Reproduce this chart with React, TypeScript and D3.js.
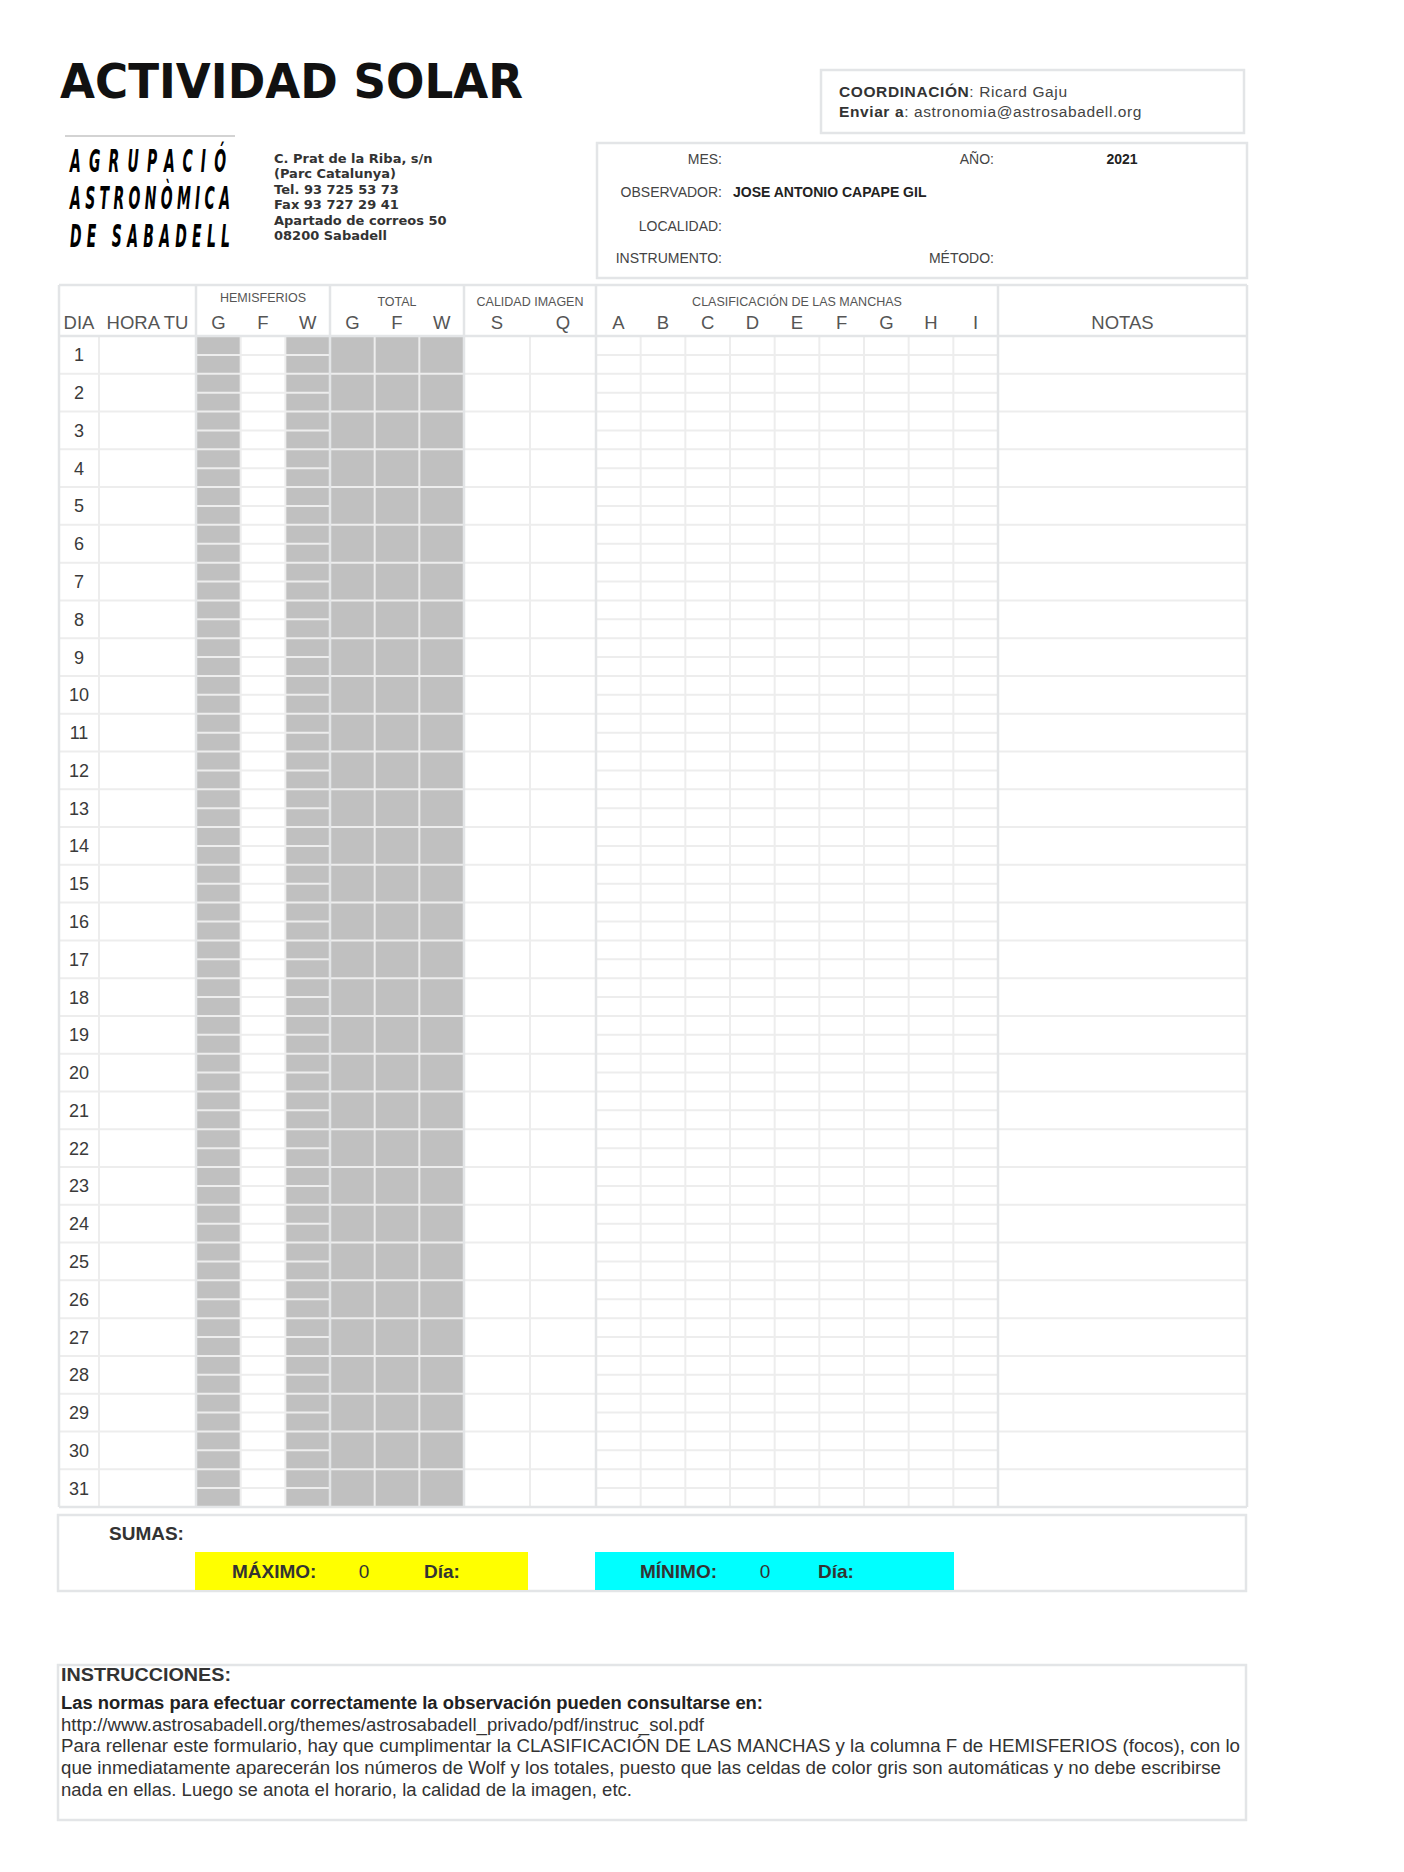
import React from "react";
import * as d3 from "d3";

// ---- form content ----
const days = [
  1, 2, 3, 4, 5, 6, 7, 8, 9, 10, 11, 12, 13, 14, 15, 16, 17, 18, 19, 20, 21,
  22, 23, 24, 25, 26, 27, 28, 29, 30, 31,
];
const hemisferioCols = ["G", "F", "W"];
const hemisferioGray = ["G", "W"];
const totalCols = ["G", "F", "W"];
const calidadCols = ["S", "Q"];
const manchasCols = ["A", "B", "C", "D", "E", "F", "G", "H", "I"];
const subRows = [0, 1]; // N / S hemisphere half rows

const titleText = "ACTIVIDAD SOLAR";
const logoLines = ["AGRUPACIÓ", "ASTRONÒMICA", "DE SABADELL"];
const addressLines = [
  "C. Prat de la Riba, s/n",
  "(Parc Catalunya)",
  "Tel. 93 725 53 73",
  "Fax 93 727 29 41",
  "Apartado de correos 50",
  "08200 Sabadell",
];
const coordinador = "Ricard Gaju";
const enviarA = "astronomia@astrosabadell.org";
const infoLabelsLeft = ["MES:", "OBSERVADOR:", "LOCALIDAD:", "INSTRUMENTO:"];
const infoLabelsRight = ["AÑO:", "", "", "MÉTODO:"];
const observador = "JOSE ANTONIO CAPAPE GIL";
const anyo = "2021";
const maximo = 0;
const minimo = 0;
const instruccionesLines = [
  "Las normas para efectuar correctamente la observación pueden consultarse en:",
  "http://www.astrosabadell.org/themes/astrosabadell_privado/pdf/instruc_sol.pdf",
  "Para rellenar este formulario, hay que cumplimentar la CLASIFICACIÓN DE LAS MANCHAS y la columna F de HEMISFERIOS (focos), con lo",
  "que inmediatamente aparecerán los números de Wolf y los totales, puesto que las celdas de color gris son automáticas y no debe escribirse",
  "nada en ellas. Luego se anota el horario, la calidad de la imagen, etc.",
];

const SANS = "'Liberation Sans', Arial, sans-serif";
const DEJA = "'DejaVu Sans', Verdana, sans-serif";

export default function App() {
  const W = 1404;
  const H = 1872;

  // table frame
  const tL = 59;
  const tR = 1247;
  const headT = 285;
  const bodyT = 336;
  const bodyB = 1507;
  const diaR = 99;
  const horaR = 196;
  const hemR = 330;
  const totR = 464;
  const calR = 596;
  const manR = 998;

  const y = d3.scaleBand<number>().domain(days).range([bodyT, bodyB]);
  const rowH = y.bandwidth();
  const xHem = d3.scaleBand<string>().domain(hemisferioCols).range([horaR, hemR]);
  const xTot = d3.scaleBand<string>().domain(totalCols).range([hemR, totR]);
  const xCal = d3.scaleBand<string>().domain(calidadCols).range([totR, calR]);
  const xMan = d3.scaleBand<string>().domain(manchasCols).range([calR, manR]);

  const gridC = "#ededed";
  const frameC = "#e3e5e7";
  const gray = "#c0c0c0";

  const innerV: number[] = [
    diaR,
    ...hemisferioCols.slice(1).map((c) => xHem(c)!),
    ...totalCols.slice(1).map((c) => xTot(c)!),
    ...calidadCols.slice(1).map((c) => xCal(c)!),
    ...manchasCols.slice(1).map((c) => xMan(c)!),
  ];
  const groupV = [tL, horaR, hemR, totR, calR, manR, tR];

  // logo: tall letters by vertical scaling, kept inside their own line boxes
  const logoScale = 2.05;
  const logoBase = [172, 209, 247];
  const logoWidth = [156, 160, 160];

  // instrucciones layout
  const insWidths = [702, 643, 1179, 1160, 571];

  return (
    <div style={{ position: "absolute", left: 0, top: 0 }}>
      <svg width={W} height={H} viewBox={`0 0 ${W} ${H}`} style={{ display: "block", background: "#fff" }}>
        <rect width={W} height={H} fill="#fff" />

        {/* title */}
        <text x={60} y={98} fontFamily={DEJA} fontWeight="bold" fontSize={48} fill="#111" textLength={463} lengthAdjust="spacingAndGlyphs">
          {titleText}
        </text>

        {/* logo */}
        <line x1={65} x2={235} y1={136} y2={136} stroke="#c4c4c4" strokeWidth={1.5} />
        {logoLines.map((t, i) => (
          <g key={t} transform={`translate(70, ${logoBase[i]}) scale(1, ${logoScale})`}>
            <text x={0} y={0} fontFamily="'DejaVu Sans Condensed', 'DejaVu Sans', sans-serif" fontWeight="bold" fontStyle="italic" fontSize={15.5} fill="#000" textLength={logoWidth[i]} lengthAdjust="spacing">
              {t}
            </text>
          </g>
        ))}
        {addressLines.map((t, i) => (
          <text key={t} x={274} y={163 + i * 15.4} fontFamily={DEJA} fontWeight="bold" fontSize={13} fill="#333">
            {t}
          </text>
        ))}

        {/* coordinación box */}
        <rect x={821} y={70} width={423} height={63} fill="none" stroke={frameC} strokeWidth={2.5} />
        <text x={839} y={97} fontFamily={SANS} fontSize={15.5} fill="#444" letterSpacing={0.6}>
          <tspan fontWeight="bold" fill="#333">COORDINACIÓN</tspan>
          <tspan>: {coordinador}</tspan>
        </text>
        <text x={839} y={117} fontFamily={SANS} fontSize={15.5} fill="#444" letterSpacing={0.6}>
          <tspan fontWeight="bold" fill="#333">Enviar a</tspan>
          <tspan>: {enviarA}</tspan>
        </text>

        {/* info box */}
        <rect x={597} y={143} width={650} height={135} fill="none" stroke={frameC} strokeWidth={2.5} />
        {infoLabelsLeft.map((t, i) => (
          <text key={t} x={722} y={[164, 197, 231, 263][i]} textAnchor="end" fontFamily={SANS} fontSize={14} fill="#444">
            {t}
          </text>
        ))}
        {infoLabelsRight.map((t, i) =>
          t ? (
            <text key={t} x={994} y={[164, 197, 231, 263][i]} textAnchor="end" fontFamily={SANS} fontSize={14} fill="#444">
              {t}
            </text>
          ) : null
        )}
        <text x={733} y={197} fontFamily={SANS} fontWeight="bold" fontSize={14} fill="#222">
          {observador}
        </text>
        <text x={1122} y={164} textAnchor="middle" fontFamily={SANS} fontWeight="bold" fontSize={14} fill="#222">
          {anyo}
        </text>

        {/* ---- table body fills ---- */}
        {days.map((d) =>
          subRows.map((s) =>
            hemisferioGray.map((c) => (
              <rect key={`h${d}${s}${c}`} x={xHem(c)!} y={y(d)! + (s * rowH) / 2} width={xHem.bandwidth()} height={rowH / 2} fill={gray} />
            ))
          )
        )}
        {days.map((d) =>
          totalCols.map((c) => (
            <rect key={`t${d}${c}`} x={xTot(c)!} y={y(d)!} width={xTot.bandwidth()} height={rowH} fill={gray} />
          ))
        )}

        {/* half-row lines (hemisferios + manchas) */}
        {days.map((d) => (
          <g key={`hl${d}`}>
            <line x1={horaR} x2={hemR} y1={y(d)! + rowH / 2} y2={y(d)! + rowH / 2} stroke={gridC} strokeWidth={2} />
            <line x1={calR} x2={manR} y1={y(d)! + rowH / 2} y2={y(d)! + rowH / 2} stroke={gridC} strokeWidth={2} />
          </g>
        ))}
        {/* full-row lines */}
        {days.slice(1).map((d) => (
          <line key={`rl${d}`} x1={tL} x2={tR} y1={y(d)!} y2={y(d)!} stroke={gridC} strokeWidth={2} />
        ))}
        {/* column lines */}
        {innerV.map((x, i) => (
          <line key={`cv${i}`} x1={x} x2={x} y1={bodyT} y2={bodyB} stroke={gridC} strokeWidth={2} />
        ))}
        {/* group borders */}
        {groupV.map((x, i) => (
          <line key={`gv${i}`} x1={x} x2={x} y1={headT} y2={bodyB} stroke={frameC} strokeWidth={2.5} />
        ))}
        {[headT, bodyT, bodyB].map((yy) => (
          <line key={`gh${yy}`} x1={tL} x2={tR} y1={yy} y2={yy} stroke={frameC} strokeWidth={2.5} />
        ))}

        {/* header text */}
        <text x={(horaR + hemR) / 2} y={301.5} textAnchor="middle" fontFamily={SANS} fontSize={12.5} fill="#555">HEMISFERIOS</text>
        <text x={(hemR + totR) / 2} y={305.5} textAnchor="middle" fontFamily={SANS} fontSize={12.5} fill="#555">TOTAL</text>
        <text x={(totR + calR) / 2} y={305.5} textAnchor="middle" fontFamily={SANS} fontSize={12.5} fill="#555">CALIDAD IMAGEN</text>
        <text x={(calR + manR) / 2} y={305.5} textAnchor="middle" fontFamily={SANS} fontSize={12.5} fill="#555">CLASIFICACIÓN DE LAS MANCHAS</text>

        <g fontFamily={SANS} fontSize={18.5} fill="#555" textAnchor="middle">
          <text x={(tL + diaR) / 2} y={329}>DIA</text>
          <text x={(diaR + horaR) / 2} y={329}>HORA TU</text>
          {hemisferioCols.map((c) => (
            <text key={`hh${c}`} x={xHem(c)! + xHem.bandwidth() / 2} y={329}>{c}</text>
          ))}
          {totalCols.map((c) => (
            <text key={`th${c}`} x={xTot(c)! + xTot.bandwidth() / 2} y={329}>{c}</text>
          ))}
          {calidadCols.map((c) => (
            <text key={`ch${c}`} x={xCal(c)! + xCal.bandwidth() / 2} y={329}>{c}</text>
          ))}
          {manchasCols.map((c) => (
            <text key={`mh${c}`} x={xMan(c)! + xMan.bandwidth() / 2} y={329}>{c}</text>
          ))}
          <text x={(manR + tR) / 2} y={329}>NOTAS</text>
        </g>

        {/* day numbers */}
        <g fontFamily={SANS} fontSize={18} fill="#3a3a3a" textAnchor="middle">
          {days.map((d) => (
            <text key={`d${d}`} x={(tL + diaR) / 2} y={y(d)! + rowH / 2 + 6.5}>{d}</text>
          ))}
        </g>

        {/* sumas */}
        <rect x={58} y={1515} width={1188} height={76} fill="none" stroke={frameC} strokeWidth={2.5} />
        <text x={109} y={1540} fontFamily={SANS} fontWeight="bold" fontSize={19} fill="#333">SUMAS:</text>
        <rect x={195} y={1552} width={333} height={38} fill="#ffff00" />
        <rect x={595} y={1552} width={359} height={38} fill="#00ffff" />
        <g fontFamily={SANS} fontSize={19} fill="#333">
          <text x={232} y={1578} fontWeight="bold">MÁXIMO:</text>
          <text x={364} y={1578} textAnchor="middle">{maximo}</text>
          <text x={424} y={1578} fontWeight="bold">Día:</text>
          <text x={640} y={1578} fontWeight="bold">MÍNIMO:</text>
          <text x={765} y={1578} textAnchor="middle">{minimo}</text>
          <text x={818} y={1578} fontWeight="bold">Día:</text>
        </g>

        {/* instrucciones */}
        <rect x={58} y={1665} width={1188} height={155} fill="none" stroke={frameC} strokeWidth={2.5} />
        <text x={61} y={1681} fontFamily={SANS} fontWeight="bold" fontSize={18} fill="#333" textLength={170} lengthAdjust="spacingAndGlyphs">
          INSTRUCCIONES:
        </text>
        {instruccionesLines.map((t, i) => (
          <text
            key={i}
            x={61}
            y={1709 + i * 21.7}
            fontFamily={SANS}
            fontWeight={i === 0 ? "bold" : "normal"}
            fontSize={17.5}
            fill={i === 0 ? "#222" : "#333"}
            textLength={insWidths[i]}
            lengthAdjust="spacingAndGlyphs"
          >
            {t}
          </text>
        ))}
      </svg>
    </div>
  );
}
